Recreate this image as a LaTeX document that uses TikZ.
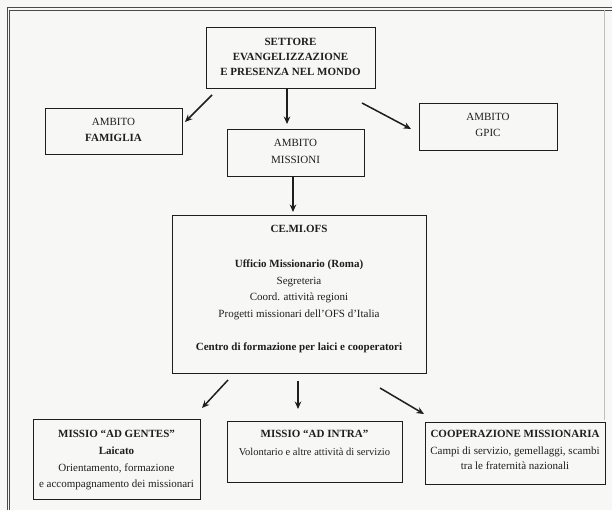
\documentclass[tikz,border=0pt]{standalone}
\usepackage{fontspec}
\setmainfont{Liberation Serif}
\usetikzlibrary{arrows.meta}
\definecolor{paper}{HTML}{F7F7F5}
\definecolor{ink}{HTML}{1E1E1E}
\tikzset{
  boxst/.style={draw=ink, line width=0.9pt, inner sep=0pt},
  ttl/.style={font=\bfseries\fontsize{11}{13}\selectfont, text=ink, anchor=base, inner sep=0pt},
  amb/.style={font=\fontsize{11}{13}\selectfont, text=ink, anchor=base, inner sep=0pt},
  bod/.style={font=\fontsize{11}{13}\selectfont, text=ink, anchor=base, inner sep=0pt},
  arr/.style={draw=ink, line width=1.5pt, -{Stealth[length=7.5pt,width=6.5pt]}},
  frame/.style={draw=ink!80, line width=0.7pt}
}
\begin{document}
\begin{tikzpicture}[x=1pt,y=-1pt]
\fill[paper] (0,0) rectangle (612,510);
\useasboundingbox (0,0) rectangle (612,510);
% page frame
\draw[frame] (7,510) -- (7,7.5) -- (612,7.5);
\draw[frame] (9.5,510) -- (9.5,10) -- (612,10);
\draw[draw=black!25, line width=0.6pt] (604,10) -- (604,420);

% boxes
\node[boxst, minimum width=169pt, minimum height=61pt] (settore) at (290.5,57.5) {};
\node[boxst, minimum width=137pt, minimum height=46pt] (famiglia) at (113.5,131) {};
\node[boxst, minimum width=138pt, minimum height=47pt] (gpic) at (488,126.5) {};
\node[boxst, minimum width=137pt, minimum height=47pt] (missioni) at (295.5,152.5) {};
\node[boxst, minimum width=254pt, minimum height=158pt] (cemi) at (299,294) {};
\node[boxst, minimum width=167pt, minimum height=80pt] (gentes) at (116.5,459) {};
\node[boxst, minimum width=175pt, minimum height=61pt] (intra) at (314.5,451.5) {};
\node[boxst, minimum width=180pt, minimum height=62pt] (coop) at (515,453) {};

% texts
\node[ttl] (t1) at (290.5,46) {SETTORE};
\node[ttl] (t2) at (290.5,61) {EVANGELIZZAZIONE};
\node[ttl] (t3) at (290.5,76) {E PRESENZA NEL MONDO};

\node[amb] (f1) at (113.5,126) {AMBITO};
\node[ttl] (f2) at (113.5,142) {FAMIGLIA};

\node[amb] (g1) at (488,121) {AMBITO};
\node[amb] (g2) at (488,137) {GPIC};

\node[amb] (m1) at (295.5,147) {AMBITO};
\node[amb] (m2) at (295.5,164) {MISSIONI};

\node[ttl] (c1) at (299,233) {CE.MI.OFS};
\node[ttl] (c2) at (299,267) {Ufficio Missionario (Roma)};
\node[bod] (c3) at (299,284) {Segreteria};
\node[bod] (c4) at (299,300) {Coord. attività regioni};
\node[bod] (c5) at (299,317) {Progetti missionari dell'OFS d'Italia};
\node[ttl] (c6) at (299,350) {Centro di formazione per laici e cooperatori};

\node[ttl] (a1) at (116.5,437) {MISSIO “AD GENTES”};
\node[ttl] (a2) at (116.5,454) {Laicato};
\node[bod] (a3) at (116.5,471) {Orientamento, formazione};
\node[bod] (a4) at (116.5,487) {e accompagnamento dei missionari};

\node[ttl] (b1) at (314.5,437) {MISSIO “AD INTRA”};
\node[bod, font=\fontsize{10.5}{12.5}\selectfont] (b2) at (314.5,455) {Volontario e altre attività di servizio};

\node[ttl] (k1) at (515,437) {COOPERAZIONE MISSIONARIA};
\node[bod] (k2) at (515,454) {Campi di servizio, gemellaggi, scambi};
\node[bod] (k3) at (515,469) {tra le fraternità nazionali};

% connector end points
\coordinate (s1) at (212,95);   \coordinate (e1) at (185,122);
\coordinate (s2) at (287,88);   \coordinate (e2) at (287,124);
\coordinate (s3) at (362,103);  \coordinate (e3) at (411,129);
\coordinate (s4) at (293,176);  \coordinate (e4) at (293,212);
\coordinate (s5) at (228,380);  \coordinate (e5) at (202,408);
\coordinate (s6) at (298,381);  \coordinate (e6) at (298,409);
\coordinate (s7) at (380,388);  \coordinate (e7) at (424,414);

\draw[arr] (s1) -- (e1);
\draw[arr] (s2) -- (e2);
\draw[arr] (s3) -- (e3);
\draw[arr] (s4) -- (e4);
\draw[arr] (s5) -- (e5);
\draw[arr] (s6) -- (e6);
\draw[arr] (s7) -- (e7);
\end{tikzpicture}
\end{document}
